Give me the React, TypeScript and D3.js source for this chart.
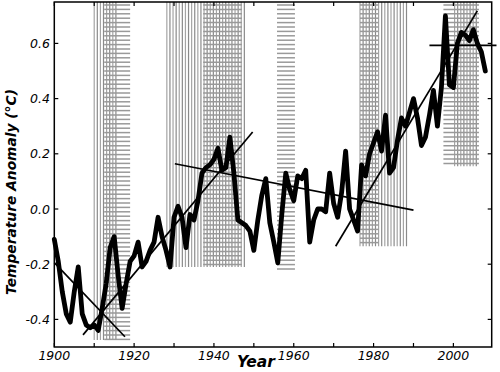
import * as d3 from "d3";

// annual temperature anomaly (°C), 1900 .. 2008
const startYear = 1900;
const anomalies = [
  -0.11, -0.19, -0.3, -0.38, -0.41, -0.3, -0.21, -0.38, -0.42, -0.43,
  -0.42, -0.44, -0.36, -0.27, -0.14, -0.1, -0.24, -0.36, -0.27, -0.19,
  -0.17, -0.12, -0.21, -0.19, -0.15, -0.12, -0.03, -0.1, -0.15, -0.21,
  -0.03, 0.01, -0.03, -0.14, -0.02, -0.04, 0.03, 0.13, 0.15, 0.16,
  0.18, 0.22, 0.14, 0.15, 0.26, 0.13, -0.04, -0.05, -0.06, -0.08,
  -0.15, -0.04, 0.05, 0.11, -0.05, -0.12, -0.195, -0.02, 0.13, 0.07,
  0.03, 0.12, 0.11, 0.14, -0.12, -0.04, 0.0, 0.0, -0.01, 0.13,
  0.02, -0.03, 0.06, 0.21, 0.0, -0.04, -0.08, 0.16, 0.12, 0.2,
  0.24, 0.28, 0.21, 0.34, 0.13, 0.15, 0.25, 0.33, 0.3, 0.35,
  0.4, 0.33, 0.23, 0.26, 0.34, 0.43, 0.3, 0.44, 0.7, 0.45,
  0.44, 0.6, 0.64, 0.63, 0.61, 0.65, 0.6, 0.57, 0.5,
];

// straight trend segments [year, anomaly] -> [year, anomaly]
const trends: [number, number, number, number][] = [
  [1900, -0.194, 1917.7, -0.463],
  [1907.2, -0.456, 1949.7, 0.279],
  [1930.2, 0.164, 1990, -0.004],
  [1970.5, -0.135, 2006, 0.718],
  [1994, 0.593, 2010.8, 0.593],
];

// hatched periods: vertical-line span, horizontal-line span, lower edge
const vHatch: ([number, number] | null)[] = [
  [1910, 1915.8],
  [1928.2, 1947.6],
  null,
  [1976.6, 1988.6],
  [2000.3, 2006.4],
];
const hHatch: [number, number][] = [
  [1912.5, 1919],
  [1937.3, 1947],
  [1955.8, 1960.3],
  [1976.6, 1981.2],
  [1997.5, 2006.4],
];
const hatchBottom = [-0.475, -0.21, -0.22, -0.135, 0.155];

const xTickYears = [1900, 1910, 1920, 1930, 1940, 1950, 1960, 1970, 1980, 1990, 2000];
const xLabelYears = [1900, 1920, 1940, 1960, 1980, 2000];
const yTicks = [-0.4, -0.2, 0.0, 0.2, 0.4, 0.6];

const W = 500;
const H = 372;
const L = 54.3;
const R = 491.7;
const T = 2;
const B = 347;

const font = "'DejaVu Sans', Verdana, sans-serif";

export default function App() {
  const x = d3.scaleLinear().domain([1900, 2009.6]).range([L, R]);
  const y = d3.scaleLinear().domain([-0.5, 0.75]).range([B, T]);

  const pts = anomalies.map((v, i) => [startYear + i, v] as [number, number]);
  const line = d3
    .line<[number, number]>()
    .x((d) => x(d[0]))
    .y((d) => y(d[1]));

  return (
    <svg
      width={W}
      height={H}
      style={{ position: "fixed", left: 0, top: 0, background: "#fff" }}
    >
      {/* hatching */}
      {hatchBottom.map((bot, i) => {
        const v = vHatch[i];
        const h = hHatch[i];
        const yb = y(bot);
        return (
          <g key={"h" + i}>
            {v &&
              d3.range(x(v[0]), x(v[1]) + 0.1, 3.1).map((xx, j) => (
                <line
                  key={"v" + j}
                  x1={xx}
                  x2={xx}
                  y1={T}
                  y2={yb}
                  stroke={j % 2 ? "#8a8a8a" : "#a4a4a4"}
                  strokeWidth={1.2}
                />
              ))}
            {d3.range(T + 3, yb, 4.4).map((yy, j) => (
              <line
                key={"hz" + j}
                x1={x(h[0])}
                x2={x(h[1])}
                y1={yy}
                y2={yy}
                stroke="#999"
                strokeWidth={1.5}
              />
            ))}
          </g>
        );
      })}

      {/* trend lines */}
      {trends.map((t, i) => (
        <line
          key={"t" + i}
          x1={x(t[0])}
          y1={y(t[1])}
          x2={x(t[2])}
          y2={y(t[3])}
          stroke="#000"
          strokeWidth={1.7}
        />
      ))}

      {/* temperature curve */}
      <path
        d={line(pts) || ""}
        fill="none"
        stroke="#000"
        strokeWidth={4.8}
        strokeLinejoin="round"
        strokeLinecap="round"
      />

      {/* frame */}
      <rect x={L} y={T} width={R - L} height={B - T} fill="none" stroke="#000" strokeWidth={1.5} />

      {xTickYears.map((yr) => (
        <g key={"xt" + yr}>
          <line x1={x(yr)} x2={x(yr)} y1={B} y2={B - 4} stroke="#000" strokeWidth={1.2} />
          <line x1={x(yr)} x2={x(yr)} y1={T} y2={T + 4} stroke="#000" strokeWidth={1.2} />
        </g>
      ))}
      {yTicks.map((v) => (
        <g key={"yt" + v}>
          <line x1={L} x2={L + 4} y1={y(v)} y2={y(v)} stroke="#000" strokeWidth={1.2} />
          <line x1={R} x2={R - 4} y1={y(v)} y2={y(v)} stroke="#000" strokeWidth={1.2} />
        </g>
      ))}

      {xLabelYears.map((yr) => (
        <text
          key={"xl" + yr}
          x={x(yr)}
          y={359.5}
          textAnchor="middle"
          fontFamily={font}
          fontStyle="italic"
          fontSize={12.5}
          fill="#000"
        >
          {yr}
        </text>
      ))}
      {yTicks.map((v) => (
        <text
          key={"yl" + v}
          x={50}
          y={y(v) + 4.5}
          textAnchor="end"
          fontFamily={font}
          fontStyle="italic"
          fontSize={12.5}
          fill="#000"
        >
          {v.toFixed(1)}
        </text>
      ))}

      <text
        x={256}
        y={367}
        textAnchor="middle"
        fontFamily={font}
        fontStyle="italic"
        fontWeight="bold"
        fontSize={15.5}
        fill="#000"
      >
        Year
      </text>
      <text
        transform="translate(16,192) rotate(-90)"
        textAnchor="middle"
        fontFamily={font}
        fontStyle="italic"
        fontWeight="bold"
        fontSize={13.8}
        fill="#000"
      >
        Temperature Anomaly (°C)
      </text>
    </svg>
  );
}
